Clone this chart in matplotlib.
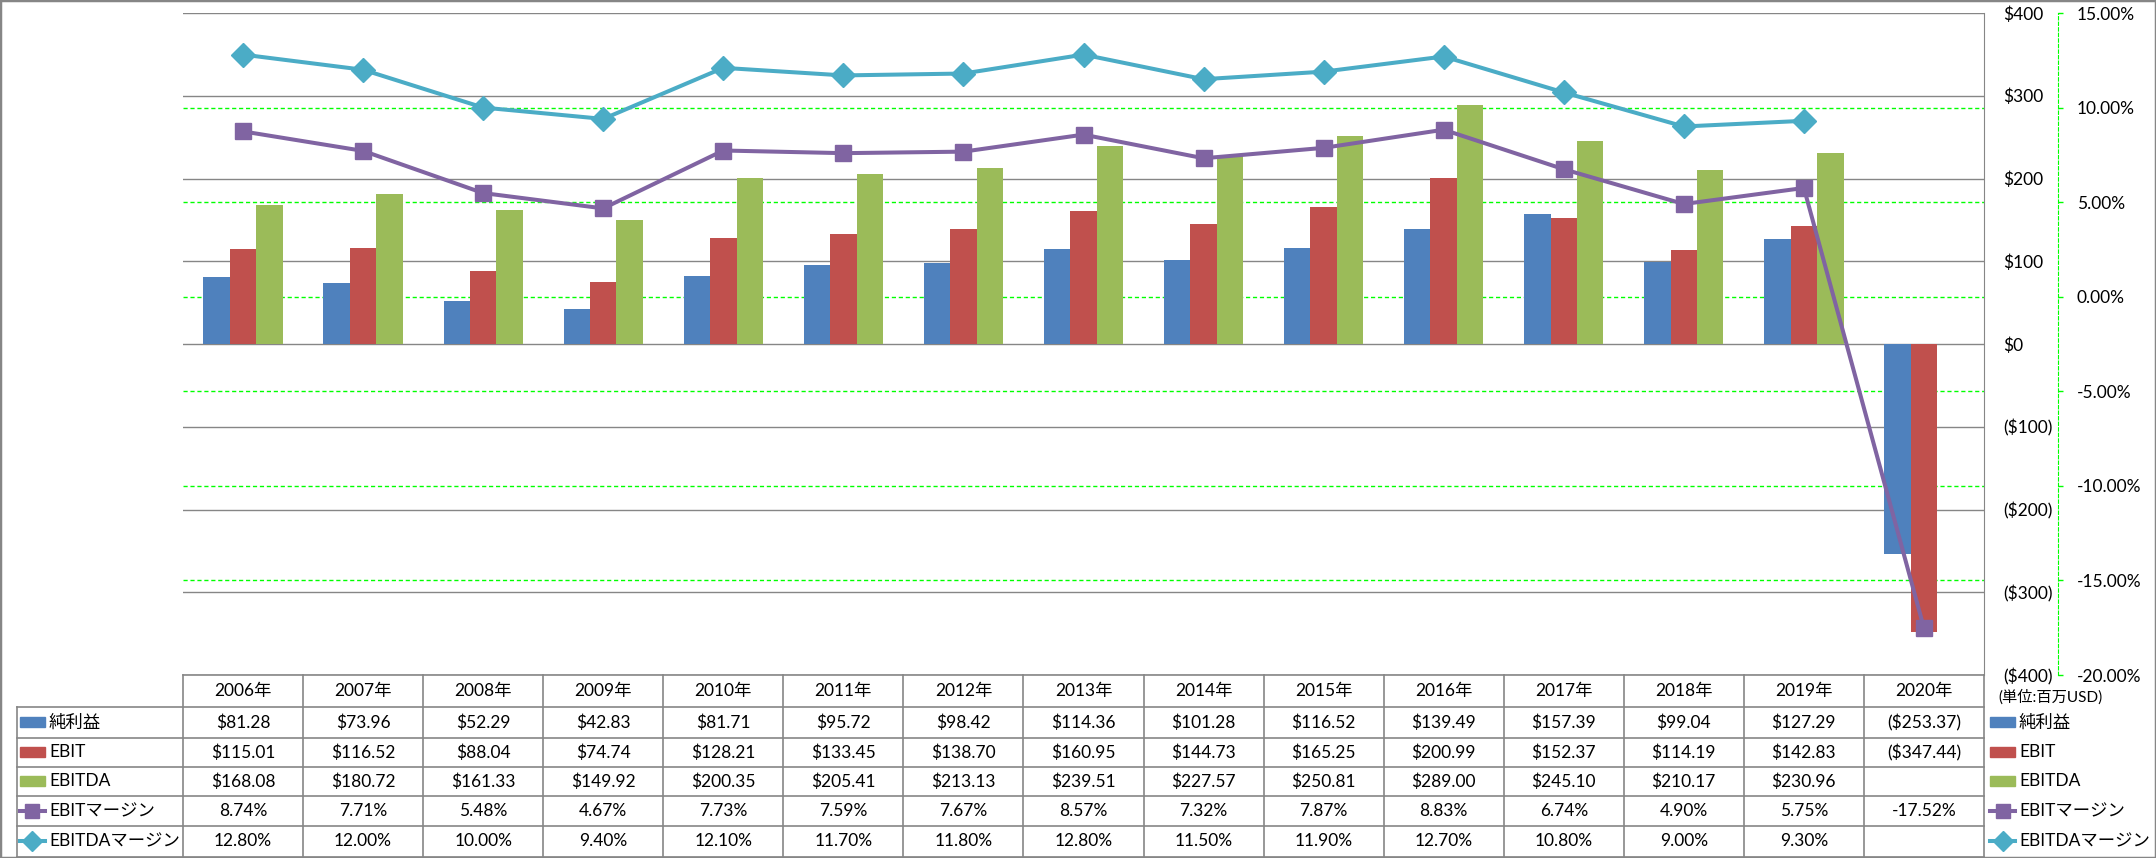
import numpy as np
import matplotlib.pyplot as plt
from matplotlib.patches import Rectangle
from matplotlib.lines import Line2D

plt.rcParams['font.family'] = ['Lato', 'Noto Sans CJK JP']

# data (million USD / %)
years = ['2006年', '2007年', '2008年', '2009年', '2010年', '2011年', '2012年', '2013年',
         '2014年', '2015年', '2016年', '2017年', '2018年', '2019年', '2020年']
net_income = [81.28, 73.96, 52.29, 42.83, 81.71, 95.72, 98.42, 114.36,
              101.28, 116.52, 139.49, 157.39, 99.04, 127.29, -253.37]
ebit = [115.01, 116.52, 88.04, 74.74, 128.21, 133.45, 138.70, 160.95,
        144.73, 165.25, 200.99, 152.37, 114.19, 142.83, -347.44]
ebitda = [168.08, 180.72, 161.33, 149.92, 200.35, 205.41, 213.13, 239.51,
          227.57, 250.81, 289.00, 245.10, 210.17, 230.96, np.nan]
ebit_margin = [8.74, 7.71, 5.48, 4.67, 7.73, 7.59, 7.67, 8.57,
               7.32, 7.87, 8.83, 6.74, 4.90, 5.75, -17.52]
ebitda_margin = [12.80, 12.00, 10.00, 9.40, 12.10, 11.70, 11.80, 12.80,
                 11.50, 11.90, 12.70, 10.80, 9.00, 9.30, np.nan]
series_names = ['純利益', 'EBIT', 'EBITDA', 'EBITマージン', 'EBITDAマージン']
unit_label = '(単位:百万USD)'

BLUE, RED, GREEN = '#4F81BD', '#C0504D', '#9BBB59'
PURPLE, TEAL = '#8064A2', '#4BACC6'
GRID, LIME = '#868686', '#00FF00'
FS = 12.5


def money(v):
    if np.isnan(v):
        return ''
    return f'${v:,.2f}' if v >= 0 else f'(${-v:,.2f})'


def pct(v):
    return '' if np.isnan(v) else f'{v:.2f}%'


# layout in pixels
W, H = 2156, 858
L, R, T, B = 183, 1984, 13, 675
fig = plt.figure(figsize=(W / 100, H / 100), dpi=100)

ax = fig.add_axes([L / W, 1 - B / H, (R - L) / W, (B - T) / H])
axg = ax.twinx()
ax2 = ax.twinx()
axg.set_zorder(0)
ax.set_zorder(1)
ax2.set_zorder(2)
ax.patch.set_visible(False)
ax2.patch.set_visible(False)

x = np.arange(len(years))
bw = 0.22
ax.bar(x - bw, net_income, bw, color=BLUE)
ax.bar(x, ebit, bw, color=RED)
ax.bar(x + bw, ebitda, bw, color=GREEN)
ax.set_xlim(-0.5, len(years) - 0.5)
ax.set_ylim(-400, 400)
yt = np.arange(-400, 401, 100)
ax.set_yticks(yt)
ax.set_yticklabels([f'${v}' if v >= 0 else f'(${-v})' for v in yt])
for lbl, v in zip(ax.get_yticklabels(), yt):
    lbl.set_color('red' if v < 0 else 'black')
ax.yaxis.tick_right()
ax.tick_params(axis='y', length=0, pad=13.7, labelsize=FS)
ax.set_xticks([])
ax.grid(axis='y', color=GRID, lw=1.0)
ax.set_axisbelow(True)
for s in ['left', 'top', 'bottom']:
    ax.spines[s].set_visible(False)
ax.spines['right'].set_color(GRID)

# secondary grid (behind bars)
axg.set_ylim(-20, 15)
axg.set_yticks(np.arange(-15, 11, 5))
axg.grid(axis='y', color=LIME, lw=1.0, linestyle=(0, (3, 2)))
axg.tick_params(axis='y', length=0, labelright=False)
for s in axg.spines.values():
    s.set_visible(False)

# margin lines
ax2.plot(x, ebit_margin, color=PURPLE, lw=2.9, marker='s', ms=12, mec=PURPLE)
ax2.plot(x, ebitda_margin, color=TEAL, lw=2.9, marker='D', ms=12, mec=TEAL)
ax2.set_ylim(-20, 15)
pt = np.arange(-20, 16, 5)
ax2.set_yticks(pt)
ax2.set_yticklabels([f'{v:.2f}%' for v in pt])
for lbl, v in zip(ax2.get_yticklabels(), pt):
    lbl.set_color('red' if v < 0 else 'black')
ax2.tick_params(axis='y', color=LIME, length=3.6, width=1, pad=10, labelsize=FS)
for s in ['left', 'top', 'bottom']:
    ax2.spines[s].set_visible(False)
ax2.spines['right'].set_position(('outward', 74 * 0.72))
ax2.spines['right'].set_color(LIME)
ax2.spines['right'].set_linestyle((0, (3, 2)))
ax2.set_xticks([])

# data table below the plot
ppu = (R - L) / len(years)
tax = fig.add_axes([0, 0, 1, (H - B) / H])
tax.set_xlim(-0.5 - L / ppu, -0.5 + (W - L) / ppu)
tax.set_ylim(H, B)
tax.axis('off')


def px2x(px):
    return (px - L) / ppu - 0.5


rows = [675, 707, 738, 767, 796, 826, 857]
x0, x1 = -0.5, len(years) - 0.5
xl = px2x(17)
tax.plot([x0, x1], [rows[0], rows[0]], color=GRID, lw=1.2, clip_on=False)
for yy in rows[1:]:
    tax.plot([xl, x1], [yy, yy], color=GRID, lw=1.2, clip_on=False)
for i in range(len(years) + 1):
    tax.plot([i - 0.5, i - 0.5], [rows[0], rows[-1]], color=GRID, lw=1.2, clip_on=False)
tax.plot([xl, xl], [rows[1], rows[-1]], color=GRID, lw=1.2, clip_on=False)

mid = [(a + b) / 2 for a, b in zip(rows[:-1], rows[1:])]
for i, yr in enumerate(years):
    tax.text(i, mid[0], yr, ha='center', va='center', fontsize=FS)
table_vals = [[money(v) for v in net_income], [money(v) for v in ebit],
              [money(v) for v in ebitda], [pct(v) for v in ebit_margin],
              [pct(v) for v in ebitda_margin]]
for r, vals in enumerate(table_vals):
    for i, s in enumerate(vals):
        tax.text(i, mid[r + 1], s, ha='center', va='center', fontsize=FS)

colors = [BLUE, RED, GREEN, PURPLE, TEAL]
markers = [None, None, None, 's', 'D']


def draw_key(k, left_px, yc, name):
    a, b = px2x(left_px), px2x(left_px + 25)
    if markers[k] is None:
        tax.add_patch(Rectangle((a, yc - 5), b - a, 10, color=colors[k], clip_on=False))
    else:
        tax.add_line(Line2D([a, b], [yc, yc], color=colors[k], lw=2.9, clip_on=False))
        tax.plot([(a + b) / 2], [yc], marker=markers[k], ms=10, color=colors[k],
                 clip_on=False)
    tax.text(px2x(left_px + 29), yc, name, ha='left', va='center', fontsize=FS)


for k, name in enumerate(series_names):
    draw_key(k, 20, mid[k + 1], name)
    draw_key(k, 1990, mid[k + 1], name)
tax.text(px2x(1998), 697, unit_label, ha='left', va='center', fontsize=11)

fig.add_artist(Rectangle((0, 0), 1, 1, transform=fig.transFigure, fill=False,
                         ec=GRID, lw=2.5))

fig.savefig('out.png', dpi=100)
